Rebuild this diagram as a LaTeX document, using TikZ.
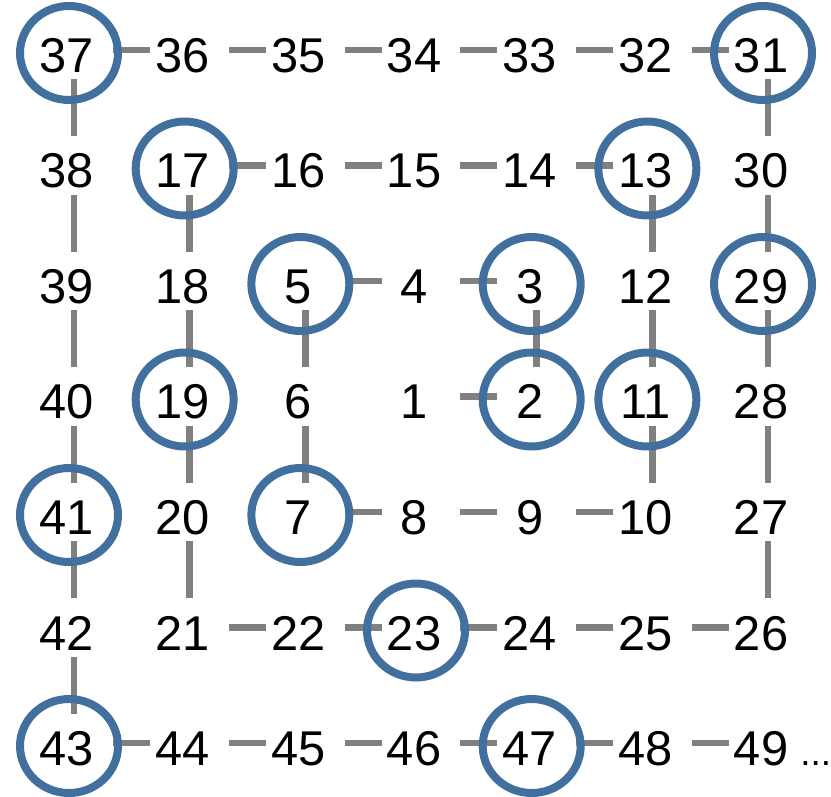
\documentclass[tikz,border=0pt]{standalone}
\usepackage{fontspec}
\setmainfont{Liberation Sans}
\usepackage{xcolor}
\usetikzlibrary{
  shapes.geometric,
}
\definecolor{primeblue}{RGB}{66,112,158}
\definecolor{linkgray}{RGB}{128,128,128}
\newcommand{\cellnum}[1]{\makebox[1.56cm]{\hspace{-0.28cm}#1}}
\tikzset{
  numnode/.style={
    rectangle, inner sep=0pt,
    text height=1.03cm, text depth=0.13cm,
    font=\fontsize{27.8pt}{30pt}\selectfont
  },
  linkline/.style={draw=linkgray, line width=0.13cm},
  primering/.style={
    ellipse, draw=primeblue, line width=0.16cm,
    minimum width=1.96cm, minimum height=1.88cm, inner sep=0pt
  },
  morenode/.style={
    font=\fontsize{21pt}{24pt}\selectfont, inner sep=0pt, anchor=base west
  },
}

\begin{document}
\begin{tikzpicture}[x=0.02cm, y=-0.02cm]
  \useasboundingbox (0,0) rectangle (831,797);

  % ── Spiral numbers, row by row ──
  \foreach \row [count=\j from 0] in {
      {37,36,35,34,33,32,31},
      {38,17,16,15,14,13,30},
      {39,18,5,4,3,12,29},
      {40,19,6,1,2,11,28},
      {41,20,7,8,9,10,27},
      {42,21,22,23,24,25,26},
      {43,44,45,46,47,48,49}} {
    \foreach \k [count=\i from 0] in \row {
      \node[numnode] (n\k) at ({74+115.67*\i},{50+115.5*\j}) {\cellnum{\k}};
    }
  }
  \node[morenode] (more) at ([shift={(32,0)}]n49.base) {...};

  % ── Links n -> n+1 ──
  \foreach \a [evaluate=\a as \b using int(\a+1)] in {1,...,48}
    \draw[linkline] (n\a) -- (n\b);

  % ── Prime rings ──
  \foreach \k in {2,3,5,7,11,13,17,19,23,29,31,37,41,43,47}
    \node[primering] (p\k) at ([shift={(-5,3)}]n\k) {};

\end{tikzpicture}
\end{document}
